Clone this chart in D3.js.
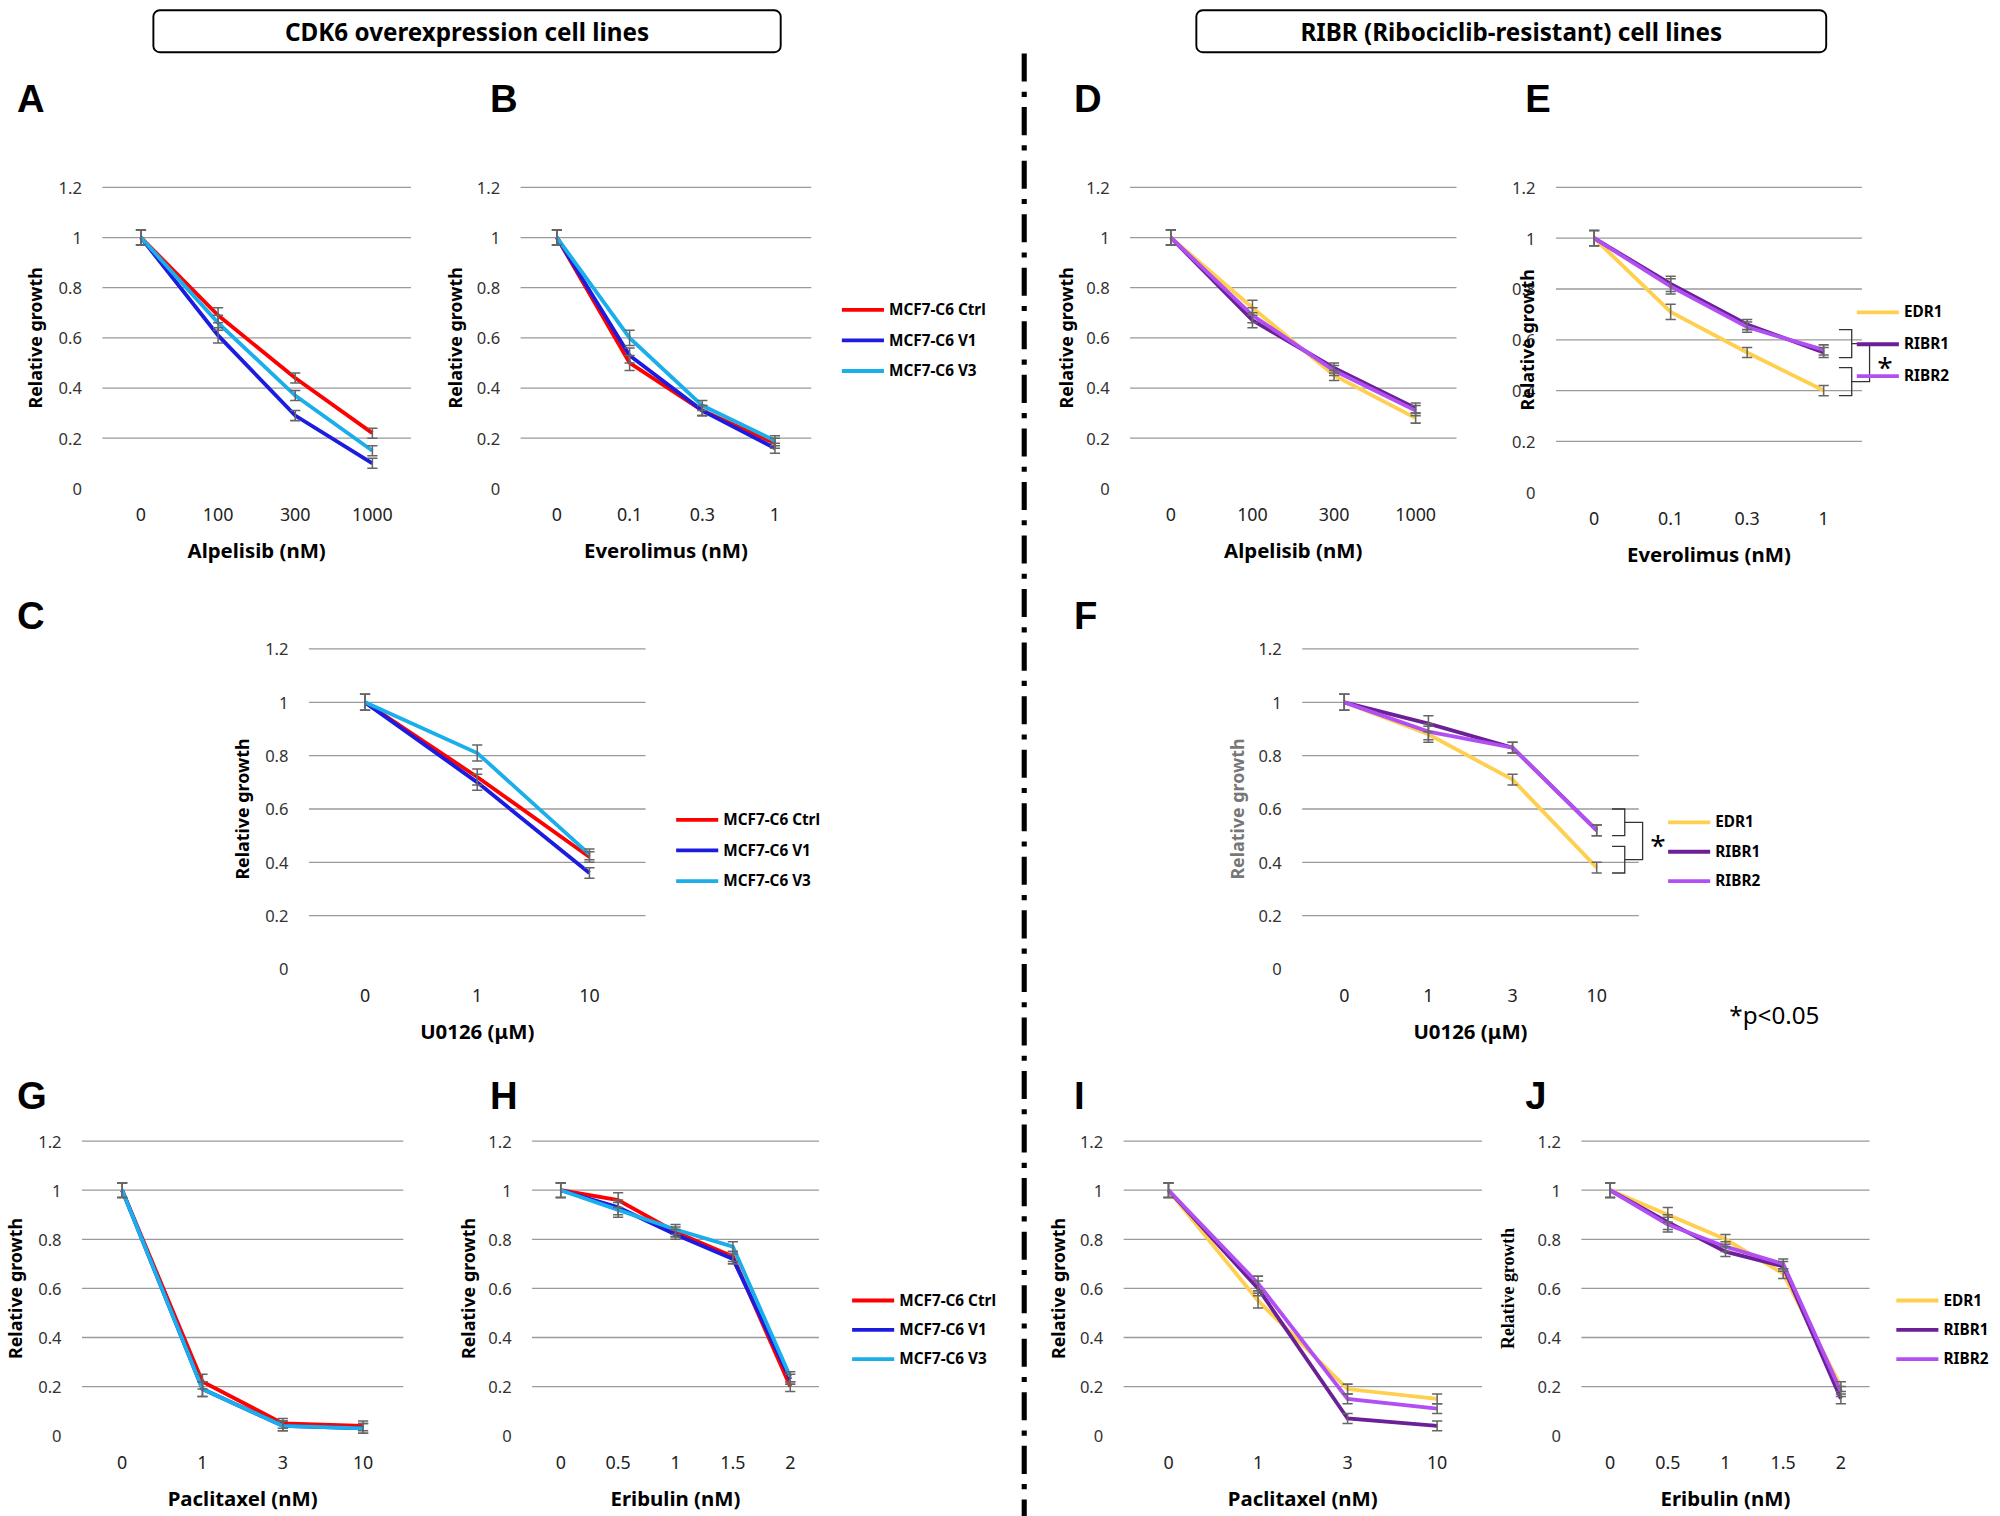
<!DOCTYPE html>
<html><head><meta charset="utf-8">
<script src="https://cdn.jsdelivr.net/npm/d3@7"></script>
<style>body{margin:0;background:#fff}</style></head>
<body><svg id="c" width="2000" height="1516" viewBox="0 0 1568 1189"></svg>
<script>
const seriesCDK = ["MCF7-C6 Ctrl","MCF7-C6 V1","MCF7-C6 V3"];
const seriesRIBR = ["EDR1","RIBR1","RIBR2"];
const colCDK = ["#ff0000","#1c1ce0","#1aaeea"];
const colRIBR = ["#ffcf4f","#6b2096","#b24ff2"];
const yTicks = [0,0.2,0.4,0.6,0.8,1,1.2];
const catsAlp = ["0","100","300","1000"];
const catsEve = ["0","0.1","0.3","1"];
const catsU1 = ["0","1","10"];
const catsU2 = ["0","1","3","10"];
const catsPac = ["0","1","3","10"];
const catsEri = ["0","0.5","1","1.5","2"];
const A_vals = [[1,0.69,0.44,0.22],[1,0.61,0.29,0.1],[1,0.66,0.37,0.15]];
const B_vals = [[1,0.5,0.31,0.18],[1,0.53,0.31,0.16],[1,0.6,0.33,0.19]];
const C_vals = [[1,0.72,0.42],[1,0.7,0.36],[1,0.81,0.43]];
const D_vals = [[1,0.72,0.45,0.28],[1,0.67,0.48,0.32],[1,0.69,0.47,0.31]];
const E_vals = [[1,0.71,0.55,0.4],[1,0.82,0.66,0.55],[1,0.81,0.65,0.56]];
const F_vals = [[1,0.88,0.71,0.38],[1,0.92,0.83,0.52],[1,0.89,0.83,0.52]];
const G_vals = [[1,0.22,0.05,0.04],[1,0.19,0.04,0.03],[1,0.19,0.04,0.03]];
const H_vals = [[1,0.96,0.83,0.73,0.2],[1,0.93,0.82,0.72,0.23],[1,0.92,0.84,0.77,0.24]];
const I_vals = [[1,0.55,0.19,0.15],[1,0.6,0.07,0.04],[1,0.62,0.15,0.11]];
const J_vals = [[1,0.9,0.8,0.66,0.2],[1,0.87,0.75,0.69,0.15],[1,0.86,0.77,0.7,0.18]];
const errs = [0.03,0.03,0.02,0.02,0.02];

const svg = d3.select("#c");
const F = "Noto Sans, Arial, sans-serif";
[[120,612,"CDK6 overexpression cell lines"],[938,1432,"RIBR (Ribociclib-resistant) cell lines"]].forEach(([a,b,t])=>{
  svg.append("rect").attr("x",a).attr("y",8).attr("width",b-a).attr("height",33).attr("rx",5)
    .attr("fill","#fff").attr("stroke","#000").attr("stroke-width",1.5);
  svg.append("text").attr("x",(a+b)/2).attr("y",32).attr("text-anchor","middle")
    .attr("font-family",F).attr("font-size",19).attr("font-weight","bold").text(t);
});
svg.append("line").attr("x1",803).attr("x2",803).attr("y1",42).attr("y2",1189)
  .attr("stroke","#000").attr("stroke-width",4).attr("stroke-dasharray","22,8,4,8");

function panel(o){
  const y = d3.scaleLinear().domain([0,1.2]).range([o.y0,o.y1]);
  const x = d3.scalePoint().domain(o.cats).range([o.x0+o.step/2,o.x1-o.step/2]);
  const g = svg.append("g");
  yTicks.forEach(t=>{
    if(t>0) g.append("line").attr("x1",o.x0).attr("x2",o.x1).attr("y1",y(t)).attr("y2",y(t)).attr("stroke","#9a9a9a");
    g.append("text").attr("x",o.x0-16).attr("y",y(t)+5).attr("text-anchor","end")
      .attr("font-family",F).attr("font-size",13).attr("fill","#333").text(t);
  });
  o.cats.forEach(c=>g.append("text").attr("x",x(c)).attr("y",o.y0+26).attr("text-anchor","middle")
      .attr("font-family",F).attr("font-size",14).attr("fill","#222").text(c));
  g.append("text").attr("x",(o.x0+o.x1)/2).attr("y",o.y0+55).attr("text-anchor","middle")
    .attr("font-family",F).attr("font-size",16).attr("font-weight","bold").text(o.xt);
  g.append("text").attr("transform",`translate(${o.yl},${(o.y0+o.y1)/2}) rotate(-90)`).attr("text-anchor","middle")
    .attr("font-family",o.serif?"Liberation Serif, serif":F).attr("font-size",14).attr("font-weight","bold")
    .attr("fill",o.gray?"#777":"#000").text("Relative growth");
  const line = d3.line().x((d,i)=>x(o.cats[i])).y(d=>y(d));
  o.vals.forEach((v,s)=>{
    g.append("path").attr("d",line(v)).attr("fill","none").attr("stroke",o.cols[s]).attr("stroke-width",3);
  });
  o.vals.forEach((v,s)=>v.forEach((d,i)=>{
    const e=errs[i], cx=x(o.cats[i]);
    g.append("path").attr("d",`M${cx},${y(d-e)}V${y(d+e)}M${cx-4},${y(d-e)}H${cx+4}M${cx-4},${y(d+e)}H${cx+4}`)
      .attr("stroke","#666").attr("stroke-width",1.2).attr("fill","none");
  }));
  svg.append("text").attr("x",o.lx).attr("y",o.ly).attr("font-family","Liberation Sans, Arial, sans-serif")
    .attr("font-size",30).attr("font-weight","bold").text(o.letter);
  if(o.leg){
    o.leg.names.forEach((n,i)=>{
      const yy=o.leg.y+i*o.leg.dy;
      svg.append("line").attr("x1",o.leg.x).attr("x2",o.leg.x+33).attr("y1",yy).attr("y2",yy).attr("stroke",o.cols[i]).attr("stroke-width",3);
      svg.append("text").attr("x",o.leg.x+37).attr("y",yy+4).attr("font-family",F).attr("font-size",12).attr("font-weight","bold").text(n);
    });
  }
  if(o.sig){
    const last=o.cats.length-1;
    const xl=x(o.cats[last]);
    const a=y(o.vals[2][last]+0.08), b=y(o.vals[1][last]-0.02), c=y(o.vals[1][last]-0.06), d=y(o.vals[0][last]-0.02);
    const bx=xl+12;
    g.append("path").attr("d",`M${bx},${a}H${bx+10}V${b}H${bx}M${bx},${c}H${bx+10}V${d}H${bx}`).attr("fill","none").attr("stroke","#333");
    const m1=(a+b)/2, m2=(c+d)/2;
    g.append("path").attr("d",`M${bx+10},${m1}H${bx+24}V${m2}H${bx+10}`).attr("fill","none").attr("stroke","#333");
    g.append("text").attr("x",bx+30).attr("y",(m1+m2)/2+12).attr("font-family",F).attr("font-size",22).text("*");
  }
}
const Y1=[383,147], Y2=[760,509], Y3=[1126,895];
panel({cats:catsAlp,vals:A_vals,cols:colCDK,x0:80,x1:322,step:60.5,y0:Y1[0],y1:Y1[1],yl:33,xt:"Alpelisib (nM)",letter:"A",lx:13,ly:88});
panel({cats:catsEve,vals:B_vals,cols:colCDK,x0:408,x1:636,step:57,y0:Y1[0],y1:Y1[1],yl:362,xt:"Everolimus (nM)",letter:"B",lx:384,ly:88,
  leg:{names:seriesCDK,x:660,y:243,dy:24}});
panel({cats:catsU1,vals:C_vals,cols:colCDK,x0:242,x1:506,step:88,y0:Y2[0],y1:Y2[1],yl:195,xt:"U0126 (μM)",letter:"C",lx:13,ly:493,
  leg:{names:seriesCDK,x:530,y:643,dy:24}});
panel({cats:catsAlp,vals:D_vals,cols:colRIBR,x0:886,x1:1142,step:64,y0:Y1[0],y1:Y1[1],yl:841,xt:"Alpelisib (nM)",letter:"D",lx:842,ly:88});
panel({cats:catsEve,vals:E_vals,cols:colRIBR,x0:1220,x1:1460,step:60,y0:386,y1:Y1[1],yl:1203,xt:"Everolimus (nM)",letter:"E",lx:1196,ly:88,
  leg:{names:seriesRIBR,x:1456,y:245,dy:25},sig:true});
panel({cats:catsU2,vals:F_vals,cols:colRIBR,x0:1021,x1:1285,step:66,y0:Y2[0],y1:Y2[1],yl:975,gray:true,xt:"U0126 (μM)",letter:"F",lx:842,ly:493,
  leg:{names:seriesRIBR,x:1308,y:645,dy:23},sig:true});
panel({cats:catsPac,vals:G_vals,cols:colCDK,x0:64,x1:316,step:63,y0:Y3[0],y1:Y3[1],yl:17,xt:"Paclitaxel (nM)",letter:"G",lx:13,ly:870});
panel({cats:catsEri,vals:H_vals,cols:colCDK,x0:417,x1:642,step:45,y0:Y3[0],y1:Y3[1],yl:372,xt:"Eribulin (nM)",letter:"H",lx:384,ly:870,
  leg:{names:seriesCDK,x:668,y:1020,dy:23}});
panel({cats:catsPac,vals:I_vals,cols:colRIBR,x0:881,x1:1162,step:70.3,y0:Y3[0],y1:Y3[1],yl:835,xt:"Paclitaxel (nM)",letter:"I",lx:842,ly:870});
panel({cats:catsEri,vals:J_vals,cols:colRIBR,x0:1240,x1:1466,step:45,y0:Y3[0],y1:Y3[1],yl:1187,serif:true,xt:"Eribulin (nM)",letter:"J",lx:1196,ly:870,
  leg:{names:seriesRIBR,x:1487,y:1020,dy:23}});
svg.append("text").attr("x",1356).attr("y",803).attr("font-family",F).attr("font-size",19).text("*p<0.05");
</script></body></html>
